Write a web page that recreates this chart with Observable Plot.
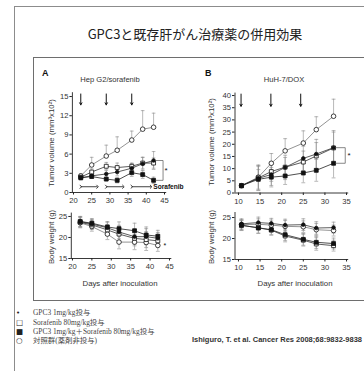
<!DOCTYPE html>
<html><head><meta charset="utf-8">
<script src="https://cdn.jsdelivr.net/npm/d3@7"></script>
<script src="https://cdn.jsdelivr.net/npm/@observablehq/plot@0.6"></script>
<style>
html,body{margin:0;padding:0;background:#fff;}
#page{position:relative;width:364px;height:371px;overflow:hidden;background:#fff;font-family:"Liberation Sans",Arial,sans-serif;color:#333;}
.abs{position:absolute;white-space:nowrap;line-height:1;}
.box{position:absolute;box-sizing:border-box;}
svg{overflow:visible;}
</style></head><body><div id="page"></div>
<script>
// ---------- texts ----------
const title = "GPC3と既存肝がん治療薬の併用効果";
const panelLetters = ["A", "B"];
const panelTitles = ["Hep G2/sorafenib", "HuH-7/DOX"];
const tumorLabel = "Tumor volume (mm³x10²)";
const weightLabel = "Body weight (g)";
const xLabel = "Days after inoculation";
const legendSymbols = ["•", "□", "■", "○"];
const legendLabels = ["GPC3 1mg/kg投与", "Sorafenib 80mg/kg投与", "GPC3 1mg/kg＋Sorafenib 80mg/kg投与", "対照群(薬剤非投与)"];
const citation = "Ishiguro, T. et al. Cancer Res 2008;68:9832-9838";
const scheduleLabel = "Sorafenib";

// ---------- panel A (Hep G2 / sorafenib) ----------
const daysA = [22, 25, 29, 32, 36, 39, 42];
const doseDaysA = [22, 29, 36];
const sorafenibPeriods = [[22, 26.6], [29, 33.7], [36, 41.3]];
const tumorA_gpc3 = [2.3, 2.6, 2.9, 3.2, 3.8, 4.5, 5.0];
const tumorA_gpc3_err = [0.3, 0.4, 0.6, 0.6, 0.7, 1.0, 1.4];
const tumorA_drug = [2.4, 3.2, 4.1, 3.9, 4.1, 4.6, 4.6];
const tumorA_drug_err = [0.3, 0.5, 0.6, 0.7, 0.5, 0.9, 0.8];
const tumorA_combo = [2.3, 2.5, 2.1, 1.9, 3.1, 2.8, 1.9];
const tumorA_combo_err = [0.3, 0.3, 0.3, 0.4, 0.6, 0.6, 0.5];
const tumorA_control = [2.6, 4.3, 5.7, 6.6, 8.2, 9.9, 10.2];
const tumorA_control_err = [0.3, 1.2, 1.7, 2.1, 1.4, 2.9, 2.2];
const weightA_gpc3 = [23.8, 23.2, 22.3, 21.3, 20.2, 20.2, 19.8];
const weightA_drug = [23.6, 23.0, 21.8, 20.8, 19.8, 19.5, 19.2];
const weightA_combo = [23.8, 23.4, 22.5, 22.1, 21.6, 20.6, 20.3];
const weightA_control = [23.5, 22.6, 20.8, 18.9, 18.9, 18.8, 18.1];
const weightA_err = [1.2, 1.1, 1.3, 1.6, 1.8, 1.9, 1.4];

// ---------- panel B (HuH-7 / DOX) ----------
const daysB = [10.7, 14.6, 17.6, 20.8, 25, 28, 32];
const doseDaysB = [10.6, 17.5, 24.4];
const tumorB_gpc3 = [3, 6, 7.6, 10.5, 14.2, 16, 18.6];
const tumorB_gpc3_err = [0.6, 5, 4.5, 5, 5, 6, 7];
const tumorB_drug = [3, 6.2, 8.8, 10.6, 12.7, 15.2, 18.5];
const tumorB_drug_err = [0.6, 5, 4, 4, 4.5, 5.5, 6.5];
const tumorB_combo = [3, 5.6, 6.5, 7, 8.2, 9.3, 12.2];
const tumorB_combo_err = [0.5, 4, 4, 3.5, 4, 4.5, 6];
const tumorB_control = [3, 6.5, 12.2, 17.3, 20.5, 26, 31.5];
const tumorB_control_err = [0.7, 5, 4, 5, 5, 5.3, 7];
const weightB_gpc3 = [23.5, 23.8, 23.6, 23.2, 23.3, 22.5, 22.6];
const weightB_drug = [23.1, 22.6, 22.0, 20.6, 19.6, 18.7, 18.3];
const weightB_combo = [23.2, 22.5, 22.1, 20.9, 19.8, 19.1, 18.8];
const weightB_control = [23.3, 23.4, 23.2, 22.9, 22.8, 22.1, 21.9];
const weightB_err = [1.2, 1.3, 1.2, 1.4, 1.4, 1.5, 1.3];

// ---------- ticks ----------
const xTicksA = [20, 25, 30, 35, 40, 45];
const xTicksB = [10, 15, 20, 25, 30, 35];
const yTicksTumorA = [0, 3, 6, 9, 12, 15];
const yTicksTumorB = [0, 5, 10, 15, 20, 25, 30, 35, 40];
const yTicksWeight = [15, 20, 25];

// ---------- helpers ----------
const page = document.getElementById("page");
function addDiv(text, css, cls = "abs") {
  const d = document.createElement("div");
  d.className = cls;
  if (text != null) d.textContent = text;
  Object.assign(d.style, css);
  page.appendChild(d);
  return d;
}
function rows(days, vals, errs, group) {
  return days.map((day, i) => ({day, v: vals[i], e: errs[i], group}));
}
const groupStyle = {
  gpc3: {symbol: "circle", fill: "#111", r: 1.8, line: "#333"},
  drug: {symbol: "square", fill: "#fff", r: 2.2, line: "#333"},
  combo: {symbol: "square", fill: "#111", r: 2.2, line: "#222"},
  control: {symbol: "circle", fill: "#fff", r: 2.3, line: "#777"}
};

function chart(o) {
  const cap = o.cap;
  const marks = [];
  for (const g of o.groups) {
    const upOnly = g.name === "control" && o.controlUp;
    marks.push(Plot.ruleX(g.data, {x: "day", y1: d => upOnly ? d.v : d.v - d.e, y2: d => d.v + d.e, stroke: "#8a8a8a", strokeWidth: 0.6}));
    marks.push(Plot.link(g.data, {x1: d => d.day - cap, x2: d => d.day + cap, y1: d => d.v + d.e, y2: d => d.v + d.e, stroke: "#8a8a8a", strokeWidth: 0.6}));
    if (!upOnly) marks.push(Plot.link(g.data, {x1: d => d.day - cap, x2: d => d.day + cap, y1: d => d.v - d.e, y2: d => d.v - d.e, stroke: "#8a8a8a", strokeWidth: 0.6}));
  }
  for (const g of o.groups) {
    marks.push(Plot.line(g.data, {x: "day", y: "v", stroke: groupStyle[g.name].line, strokeWidth: 0.8}));
  }
  for (const g of o.groups) {
    const s = groupStyle[g.name];
    marks.push(Plot.dot(g.data, {x: "day", y: "v", symbol: s.symbol, fill: s.fill, stroke: "#111", strokeWidth: 0.8, r: s.r}));
  }
  marks.push(Plot.ruleX([o.xDomain[0]], {y1: o.yDomain[0], y2: o.yDomain[1], stroke: "#222", strokeWidth: 0.9}));
  marks.push(Plot.ruleY([o.yDomain[0]], {x1: o.xDomain[0], x2: o.xDomain[1], stroke: "#222", strokeWidth: 0.9}));
  marks.push(Plot.axisX({ticks: o.xTicks, tickSize: 2.5, tickPadding: 3, fontSize: 7.6, stroke: "#222", label: null}));
  marks.push(Plot.axisY({ticks: o.yTicks, tickSize: 2.5, tickPadding: 1.5, fontSize: 7.6, stroke: "#222", label: null}));
  if (o.extra) marks.push(...o.extra);
  const svg = Plot.plot({
    width: o.width, height: o.height,
    marginLeft: o.m[0], marginRight: o.m[1], marginTop: o.m[2], marginBottom: o.m[3],
    x: {domain: o.xDomain},
    y: {domain: o.yDomain},
    style: {fontFamily: "'Liberation Sans', Arial, sans-serif", fontSize: "7.6px", color: "#333", background: "transparent", overflow: "visible"},
    marks
  });
  svg.style.position = "absolute";
  svg.style.left = o.left + "px";
  svg.style.top = o.top + "px";
  page.appendChild(svg);
}

// ---------- frames & title ----------
addDiv(null, {left: "14px", top: "6px", width: "420px", height: "420px", border: "1px solid #8c8c8c"}, "box");
addDiv(null, {left: "33px", top: "57px", width: "400px", height: "244px", border: "1px solid #6e6e6e"}, "box");
addDiv(title, {left: "195px", top: "33px", transform: "translate(-50%,-50%)", fontSize: "13px", fontFamily: "'Noto Sans CJK JP', sans-serif", color: "#222"});

// panel letters & titles
addDiv(panelLetters[0], {left: "42px", top: "69px", fontSize: "9px", fontWeight: "bold", color: "#111"});
addDiv(panelLetters[1], {left: "205px", top: "69px", fontSize: "9px", fontWeight: "bold", color: "#111"});
addDiv(panelTitles[0], {left: "110px", top: "80px", transform: "translate(-50%,-50%)", fontSize: "7.6px", color: "#333"});
addDiv(panelTitles[1], {left: "284px", top: "80px", transform: "translate(-50%,-50%)", fontSize: "7.6px", color: "#333"});

// axis titles
const rot = {transform: "translate(-50%,-50%) rotate(-90deg)", fontSize: "7.8px", color: "#333"};
addDiv(tumorLabel, {left: "52px", top: "143px", ...rot});
addDiv(weightLabel, {left: "52px", top: "237px", ...rot});
addDiv(tumorLabel, {left: "212px", top: "142px", ...rot});
addDiv(weightLabel, {left: "212px", top: "237px", ...rot});
addDiv(xLabel, {left: "120px", top: "284px", transform: "translate(-50%,-50%)", fontSize: "7.8px", color: "#333"});
addDiv(xLabel, {left: "295px", top: "284px", transform: "translate(-50%,-50%)", fontSize: "7.8px", color: "#333"});

// ---------- charts ----------
const gA = [
  {name: "control", data: rows(daysA, tumorA_control, tumorA_control_err)},
  {name: "drug", data: rows(daysA, tumorA_drug, tumorA_drug_err)},
  {name: "gpc3", data: rows(daysA, tumorA_gpc3, tumorA_gpc3_err)},
  {name: "combo", data: rows(daysA, tumorA_combo, tumorA_combo_err)}
];
const lastA = daysA.length - 1;
chart({
  left: 30, top: 85, width: 145, height: 125, m: [41.9, 8.8, 7.2, 18],
  xDomain: [19.7, 45.6], yDomain: [0, 15.6],
  xTicks: xTicksA, yTicks: yTicksTumorA, cap: 0.5, controlUp: true, groups: gA,
  extra: [
    Plot.arrow(doseDaysA, {x1: d => d, x2: d => d, y1: 15.4, y2: 13.7, stroke: "#111", strokeWidth: 1, headLength: 3.5}),
    Plot.link(sorafenibPeriods, {x1: d => d[0], x2: d => d[1], y1: 0.9, y2: 0.9, stroke: "#111", strokeWidth: 0.8, marker: "arrow"}),
    Plot.text([scheduleLabel], {x: 41.9, y: 0.9, text: d => d, textAnchor: "start", fontSize: 6.6, fontWeight: "bold", fill: "#111"}),
    Plot.line([[daysA[lastA] + 0.6, tumorA_gpc3[lastA]], [daysA[lastA] + 2.6, tumorA_gpc3[lastA]], [daysA[lastA] + 2.6, tumorA_combo[lastA]], [daysA[lastA] + 0.6, tumorA_combo[lastA]]], {stroke: "#555", strokeWidth: 0.7}),
    Plot.text(["*"], {x: daysA[lastA] + 3.4, y: (tumorA_gpc3[lastA] + tumorA_combo[lastA]) / 2, text: d => d, fontSize: 8, fill: "#111"})
  ]
});

const wA = [
  {name: "control", data: rows(daysA, weightA_control, weightA_err)},
  {name: "drug", data: rows(daysA, weightA_drug, weightA_err)},
  {name: "gpc3", data: rows(daysA, weightA_gpc3, weightA_err)},
  {name: "combo", data: rows(daysA, weightA_combo, weightA_err)}
];
chart({
  left: 30, top: 205, width: 150, height: 75, m: [40.8, 8.7, 7.6, 22],
  xDomain: [19.7, 45.6], yDomain: [15, 25.8],
  xTicks: xTicksA, yTicks: yTicksWeight, cap: 0.5, controlUp: false, groups: wA,
  extra: [
    Plot.text(["*"], {x: daysA[lastA] + 1.8, y: weightA_control[lastA], text: d => d, fontSize: 7, fill: "#111"})
  ]
});

const gB = [
  {name: "control", data: rows(daysB, tumorB_control, tumorB_control_err)},
  {name: "drug", data: rows(daysB, tumorB_drug, tumorB_drug_err)},
  {name: "gpc3", data: rows(daysB, tumorB_gpc3, tumorB_gpc3_err)},
  {name: "combo", data: rows(daysB, tumorB_combo, tumorB_combo_err)}
];
const lastB = daysB.length - 1;
chart({
  left: 195, top: 85, width: 160, height: 125, m: [39.5, 6.8, 7.6, 17.5],
  xDomain: [9.2, 35.5], yDomain: [0, 41],
  xTicks: xTicksB, yTicks: yTicksTumorB, cap: 0.45, controlUp: true, groups: gB,
  extra: [
    Plot.arrow(doseDaysB, {x1: d => d, x2: d => d, y1: 40.6, y2: 35.6, stroke: "#111", strokeWidth: 1, headLength: 3.5}),
    Plot.line([[daysB[lastB] + 0.5, tumorB_gpc3[lastB]], [daysB[lastB] + 2.7, tumorB_gpc3[lastB]], [daysB[lastB] + 2.7, tumorB_combo[lastB]], [daysB[lastB] + 0.5, tumorB_combo[lastB]]], {stroke: "#555", strokeWidth: 0.7}),
    Plot.text(["*"], {x: daysB[lastB] + 3.6, y: (tumorB_gpc3[lastB] + tumorB_combo[lastB]) / 2, text: d => d, fontSize: 8, fill: "#111"})
  ]
});

const wB = [
  {name: "control", data: rows(daysB, weightB_control, weightB_err)},
  {name: "drug", data: rows(daysB, weightB_drug, weightB_err)},
  {name: "gpc3", data: rows(daysB, weightB_gpc3, weightB_err)},
  {name: "combo", data: rows(daysB, weightB_combo, weightB_err)}
];
chart({
  left: 195, top: 205, width: 160, height: 75, m: [39.5, 6.8, 7, 21],
  xDomain: [9.2, 35.5], yDomain: [15, 26.2],
  xTicks: xTicksB, yTicks: yTicksWeight, cap: 0.45, controlUp: false, groups: wB
});

// ---------- legend ----------
const legendY = [313, 322.5, 332, 341];
legendLabels.forEach((lab, i) => {
  addDiv(legendSymbols[i], {left: "16px", top: (legendY[i] - 5) + "px", fontSize: i === 0 ? "7px" : "7.5px", lineHeight: "10px", color: "#222", fontFamily: "'DejaVu Sans', sans-serif"});
  addDiv(lab, {left: "33px", top: (legendY[i] - 5) + "px", fontSize: "7.4px", lineHeight: "10px", color: "#444", fontFamily: "'Liberation Serif', 'Noto Sans CJK JP', serif"});
});
addDiv(citation, {right: "2px", top: "336px", fontSize: "7.5px", fontWeight: "bold", color: "#333"});
</script>
</body></html>
